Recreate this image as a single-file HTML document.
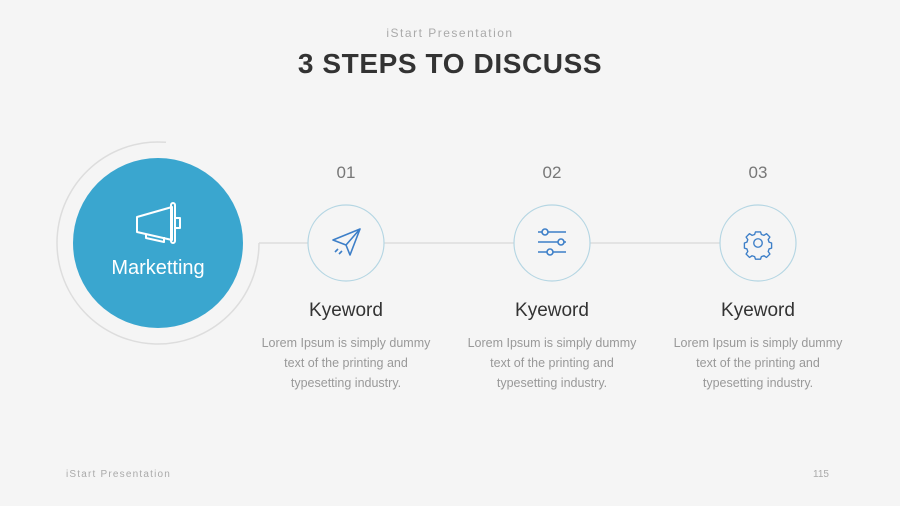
<!DOCTYPE html>
<html><head><style>
body{margin:0;width:900px;height:506px;background:#f5f5f5;font-family:"Liberation Sans",sans-serif;position:relative;overflow:hidden}
.a{position:absolute;text-align:center}
</style></head><body>
<div class="a" style="left:0;width:900px;top:26px;font-size:12px;letter-spacing:1.5px;color:#aaa">iStart Presentation</div>
<div class="a" style="left:0;width:900px;top:48px;font-size:28px;font-weight:bold;letter-spacing:0.6px;color:#333">3 STEPS TO DISCUSS</div>
<svg style="position:absolute;left:0;top:0" width="900" height="506">
<path d="M259 243 A101 101 0 1 1 166 142.3" fill="none" stroke="#ddd" stroke-width="1.5"/>
<line x1="259" y1="243" x2="720" y2="243" stroke="#ddd" stroke-width="1.5"/>
<circle cx="158" cy="243" r="85" fill="#3aa6cf"/>
<g fill="none" stroke="#fff" stroke-width="2" stroke-linejoin="round">
<path d="M137 217 L172 207 L172 240 L137 232 Z"/><rect x="171" y="203" width="4" height="40" rx="2"/>
<path d="M175 218 h5 v10 h-5"/><path d="M146 234 v4 l18 4 v-5"/></g>
<text x="158" y="274" text-anchor="middle" fill="#fff" font-size="20" font-family="Liberation Sans">Marketting</text>
<g fill="#f5f5f5" stroke="#b5d6e3" stroke-width="1.2">
<circle cx="346" cy="243" r="38"/><circle cx="552" cy="243" r="38"/><circle cx="758" cy="243" r="38"/></g>
<g fill="none" stroke="#3d7fc8" stroke-width="1.6" stroke-linejoin="round">
<path d="M333 240 L360 229 L350 255 L346 245 Z M346 245 L360 229"/>
<path d="M338 249 l-3 3 M342 251 l-3 3"/>
<path d="M538 232 h28 M538 242 h28 M538 252 h28"/>
<circle cx="545" cy="232" r="3" fill="#f5f5f5"/><circle cx="561" cy="242" r="3" fill="#f5f5f5"/><circle cx="550" cy="252" r="3" fill="#f5f5f5"/>
<g transform="translate(758 243) scale(0.85) translate(-758 -243)">
<circle cx="758" cy="243" r="5"/>
<path d="M755 230 h6 l1 3 3 1 3-2 4 4-2 3 1 3 3 1 v6 l-3 1-1 3 2 3-4 4-3-2-3 1-1 3 h-6 l-1-3-3-1-3 2-4-4 2-3-1-3-3-1 v-6 l3-1 1-3-2-3 4-4 3 2 3-1 z"/></g>
</g>
</svg>
<div class="a" style="left:296px;width:100px;top:163px;font-size:17px;color:#777">01</div>
<div class="a" style="left:502px;width:100px;top:163px;font-size:17px;color:#777">02</div>
<div class="a" style="left:708px;width:100px;top:163px;font-size:17px;color:#777">03</div>
<div class="a" style="left:246px;width:200px;top:300px;font-size:19px;color:#333">Kyeword</div>
<div class="a" style="left:452px;width:200px;top:300px;font-size:19px;color:#333">Kyeword</div>
<div class="a" style="left:658px;width:200px;top:300px;font-size:19px;color:#333">Kyeword</div>
<div class="a" style="left:246px;width:200px;top:333px;font-size:12.5px;line-height:20px;color:#999">Lorem Ipsum is simply dummy<br>text of the printing and<br>typesetting industry.</div>
<div class="a" style="left:452px;width:200px;top:333px;font-size:12.5px;line-height:20px;color:#999">Lorem Ipsum is simply dummy<br>text of the printing and<br>typesetting industry.</div>
<div class="a" style="left:658px;width:200px;top:333px;font-size:12.5px;line-height:20px;color:#999">Lorem Ipsum is simply dummy<br>text of the printing and<br>typesetting industry.</div>
<div style="position:absolute;left:66px;top:469px;font-size:10px;letter-spacing:1.2px;color:#aaa">iStart Presentation</div>
<div style="position:absolute;left:813px;top:469px;font-size:10px;color:#aaa">115</div>
</body></html>
